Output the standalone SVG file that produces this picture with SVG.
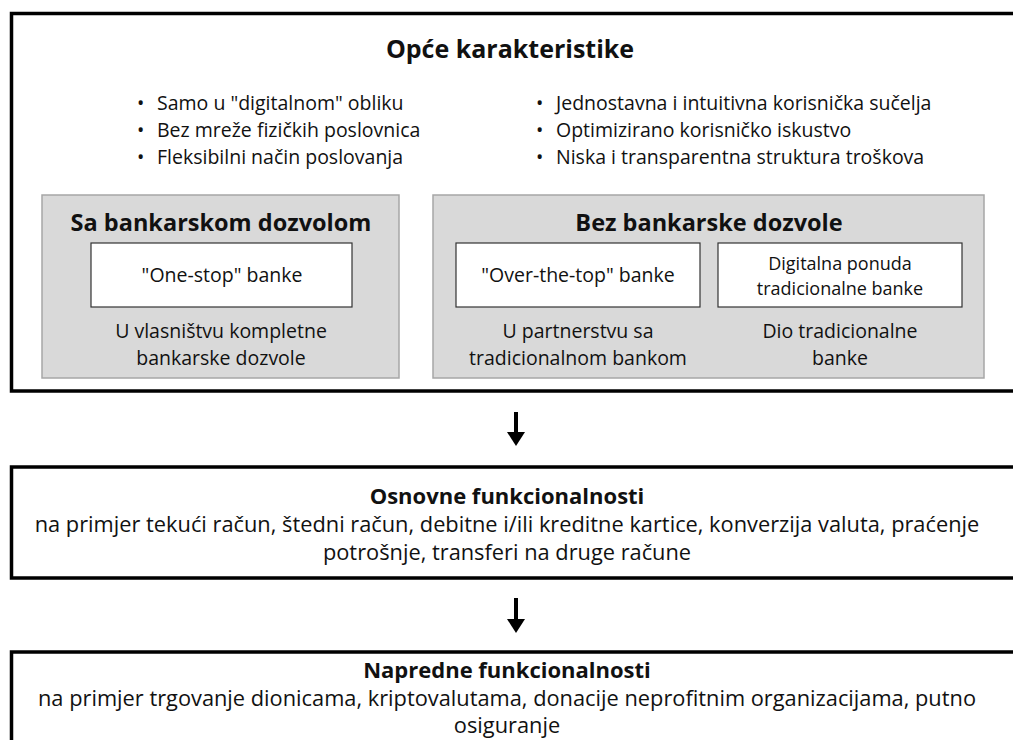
<svg xmlns="http://www.w3.org/2000/svg" width="1013" height="740" viewBox="0 0 1013 740">
<style>
text{font-family:"Open Sans","Noto Sans","Liberation Sans",sans-serif;fill:#111;text-anchor:middle}
.h{font-weight:bold;font-size:23.5px}
.t{font-weight:bold;font-size:25px}
.h2{font-weight:bold;font-size:22px}
.b{font-size:19.5px}
.l{font-size:21.8px}
.s{font-size:18px}
.bl{text-anchor:start;font-size:19.5px}
.outer{fill:#fff;stroke:#000;stroke-width:3.5}
.gray{fill:#d9d9d9;stroke:#a6a6a6;stroke-width:1.5}
.white{fill:#fff;stroke:#333;stroke-width:1.2}
.shaft{stroke:#000;stroke-width:4}
</style>
<g id="general">
<rect class="outer" x="11.5" y="13.5" width="1020" height="377.5"/>
<text class="t" x="510" y="58">Opće karakteristike</text>
<text class="bl" x="137" y="110">•</text>
<text class="bl" x="157" y="110">Samo u "digitalnom" obliku</text>
<text class="bl" x="137" y="137">•</text>
<text class="bl" x="157" y="137">Bez mreže fizičkih poslovnica</text>
<text class="bl" x="137" y="164">•</text>
<text class="bl" x="157" y="164">Fleksibilni način poslovanja</text>
<text class="bl" x="536" y="110">•</text>
<text class="bl" x="556" y="110">Jednostavna i intuitivna korisnička sučelja</text>
<text class="bl" x="536" y="137">•</text>
<text class="bl" x="556" y="137">Optimizirano korisničko iskustvo</text>
<text class="bl" x="536" y="164">•</text>
<text class="bl" x="556" y="164">Niska i transparentna struktura troškova</text>
</g>
<g id="licensed">
<rect class="gray" x="42" y="195" width="357" height="183"/>
<text class="h" x="221" y="231">Sa bankarskom dozvolom</text>
<text class="b" x="221" y="338">U vlasništvu kompletne</text>
<text class="b" x="221" y="365">bankarske dozvole</text>
</g>
<g id="one-stop">
<rect class="white" x="91" y="243" width="261" height="64"/>
<text class="b" x="222" y="282">"One-stop" banke</text>
</g>
<g id="unlicensed">
<rect class="gray" x="433" y="195" width="551" height="183"/>
<text class="h" x="709" y="231">Bez bankarske dozvole</text>
</g>
<g id="ott">
<rect class="white" x="456" y="243" width="244" height="64"/>
<text class="b" x="578" y="282">"Over-the-top" banke</text>
<text class="b" x="578" y="338">U partnerstvu sa</text>
<text class="b" x="578" y="365">tradicionalnom bankom</text>
</g>
<g id="digital-offer">
<rect class="white" x="718" y="243" width="244" height="64"/>
<text class="s" x="840" y="270">Digitalna ponuda</text>
<text class="s" x="840" y="295">tradicionalne banke</text>
<text class="b" x="840" y="338">Dio tradicionalne</text>
<text class="b" x="840" y="365">banke</text>
</g>
<g id="basic">
<rect class="outer" x="11.5" y="467" width="1020" height="111"/>
<text class="h2" x="507" y="504">Osnovne funkcionalnosti</text>
<text class="l" x="507" y="532">na primjer tekući račun, štedni račun, debitne i/ili kreditne kartice, konverzija valuta, praćenje</text>
<text class="l" x="507" y="560">potrošnje, transferi na druge račune</text>
</g>
<g id="advanced">
<rect class="outer" x="11.5" y="652" width="1020" height="120"/>
<text class="h2" x="507" y="678">Napredne funkcionalnosti</text>
<text class="l" x="507" y="706">na primjer trgovanje dionicama, kriptovalutama, donacije neprofitnim organizacijama, putno</text>
<text class="l" x="507" y="733">osiguranje</text>
</g>
<g id="connectors">
<line class="shaft" x1="516" y1="412" x2="516" y2="433"/>
<path d="M507,432 L525,432 L516,446 Z" fill="#000"/>
<line class="shaft" x1="516" y1="598" x2="516" y2="620"/>
<path d="M507,619 L525,619 L516,633 Z" fill="#000"/>
</g>
</svg>
